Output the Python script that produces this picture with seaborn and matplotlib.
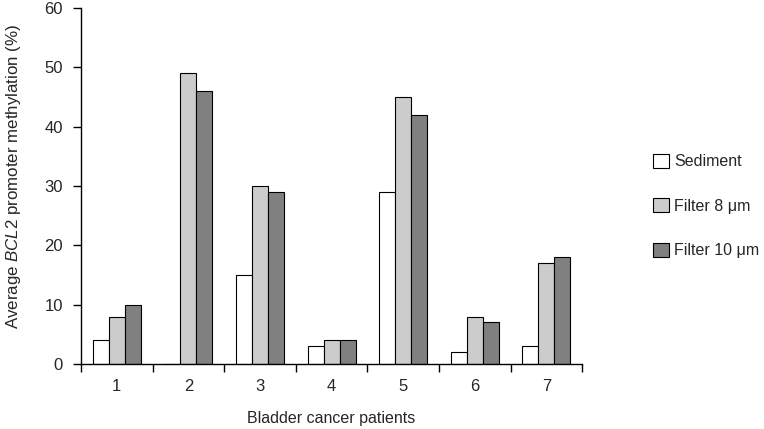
import seaborn as sns
import numpy as np
import pandas as pd
import matplotlib.pyplot as plt

# values
patients = ["1", "2", "3", "4", "5", "6", "7"]
sediment = [4, 0, 15, 3, 29, 2, 3]
filter8 = [8, 49, 30, 4, 45, 8, 17]
filter10 = [10, 46, 29, 4, 42, 7, 18]
series_names = ["Sediment", "Filter 8 \u03bcm", "Filter 10 \u03bcm"]
colors = ["#ffffff", "#cccccc", "#808080"]

sns.set_theme(style="ticks")
plt.rcParams['font.family'] = ['Liberation Sans', 'DejaVu Sans']
plt.rcParams['mathtext.fontset'] = 'custom'
plt.rcParams['mathtext.rm'] = 'Liberation Sans'
plt.rcParams['mathtext.it'] = 'Liberation Sans:italic'

df = pd.DataFrame({
    "patient": patients * 3,
    "value": sediment + filter8 + filter10,
    "sample": [series_names[0]] * 7 + [series_names[1]] * 7 + [series_names[2]] * 7,
})

fig = plt.figure(figsize=(7.64, 4.29), dpi=100)
ax = fig.add_axes([0.106, 0.1515, 0.656, 0.8295])

sns.barplot(data=df, x="patient", y="value", hue="sample", order=patients,
            hue_order=series_names, palette=colors, edgecolor="black",
            linewidth=0.8, width=0.67, ax=ax, errorbar=None)

ax.set_xlim(-0.5, 6.5)
ax.set_ylim(0, 60)
ax.set_yticks(np.arange(0, 61, 10))
ax.set_xticks(np.arange(-0.5, 7, 1), minor=True)
ax.tick_params(axis="x", which="major", length=0, labelsize=12, pad=11)
ax.tick_params(axis="x", which="minor", length=6, width=1, color="black")
ax.tick_params(axis="y", length=6, width=1, color="black", labelsize=12, pad=7)
for s in ["left", "bottom"]:
    ax.spines[s].set_color("black")
    ax.spines[s].set_linewidth(1)
sns.despine(ax=ax)

ax.set_xlabel("Bladder cancer patients", fontsize=11.5, labelpad=12)
ax.set_ylabel("Average $\\mathit{BCL2}$ promoter methylation (%)", fontsize=12.2)
ax.yaxis.set_label_coords(-0.116, 0.528)

ax.legend(loc="center left", bbox_to_anchor=(1.112, 0.444), frameon=False,
          fontsize=11.5, handlelength=1.0, handleheight=1.0, labelspacing=1.8,
          handletextpad=0.35)

plt.savefig("out.png", dpi=100)
